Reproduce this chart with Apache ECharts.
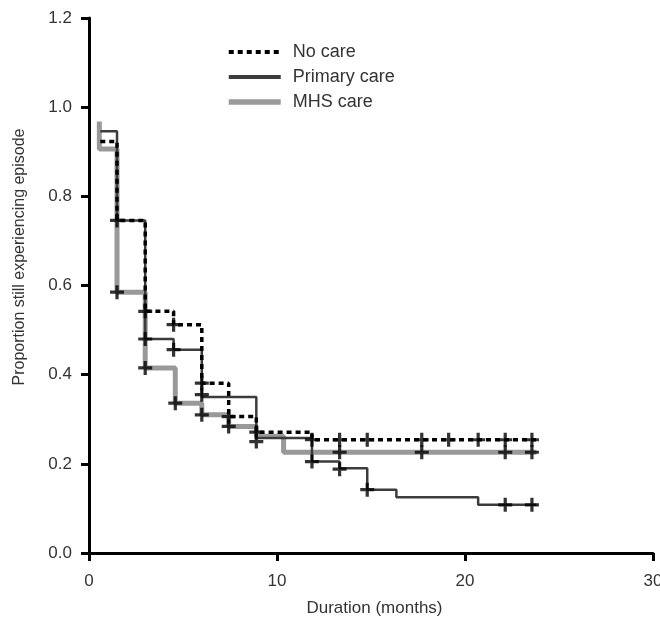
<!DOCTYPE html>
<html>
<head>
<meta charset="utf-8">
<script src="https://cdn.jsdelivr.net/npm/echarts@6/dist/echarts.min.js"></script>
<style>
html,body{margin:0;padding:0;background:#fff;}
#chart{width:660px;height:619px;}
</style>
</head>
<body>
<div id="chart"></div>
<script>
// Step curves (x = months, y = proportion); value holds until next x
const noCareX = [0.6, 1.49, 2.99, 4.5, 6.0, 7.43, 8.9, 11.86, 23.8];
const noCareY = [0.923, 0.746, 0.542, 0.512, 0.381, 0.306, 0.271, 0.254, 0.254];

const primaryX = [0.6, 1.49, 2.99, 4.5, 6.0, 8.9, 11.86, 13.33, 14.8, 16.35, 20.7, 23.8];
const primaryY = [0.946, 0.746, 0.48, 0.456, 0.35, 0.258, 0.205, 0.19, 0.142, 0.125, 0.108, 0.108];

const mhsX = [0.55, 0.55, 1.49, 2.99, 4.59, 6.0, 7.43, 8.9, 10.35, 23.8];
const mhsY = [0.968, 0.906, 0.585, 0.415, 0.336, 0.31, 0.284, 0.262, 0.226, 0.226];

// Censoring marks (+)
const noCareCensX = [1.49, 2.99, 4.5, 6.0, 7.43, 8.9, 11.86, 13.33, 14.8, 17.7, 19.13, 20.7, 22.14, 23.56];
const noCareCensY = [0.746, 0.542, 0.512, 0.381, 0.306, 0.271, 0.254, 0.254, 0.254, 0.254, 0.254, 0.254, 0.254, 0.254];
const primaryCensX = [2.99, 4.5, 6.0, 8.9, 11.86, 13.33, 14.8, 22.14, 23.56];
const primaryCensY = [0.48, 0.456, 0.355, 0.25, 0.205, 0.188, 0.142, 0.108, 0.108];
const mhsCensX = [1.49, 2.99, 4.59, 6.0, 7.43, 13.33, 17.7, 22.14, 23.56];
const mhsCensY = [0.585, 0.415, 0.336, 0.31, 0.284, 0.226, 0.226, 0.226, 0.226];

const seriesNames = ['No care', 'Primary care', 'MHS care'];
const xTicks = [0, 10, 20, 30];
const yTicks = [0.0, 0.2, 0.4, 0.6, 0.8, 1.0, 1.2];

const pairs = (xs, ys) => xs.map((x, i) => [x, ys[i]]);
const plus = 'path://M-1.5,-6.5 L1.5,-6.5 L1.5,-1.5 L6.5,-1.5 L6.5,1.5 L1.5,1.5 L1.5,6.5 L-1.5,6.5 L-1.5,1.5 L-6.5,1.5 L-6.5,-1.5 L-1.5,-1.5 Z';
const FONT = '"Liberation Sans", Arial, sans-serif';

const chart = echarts.init(document.getElementById('chart'), null, {renderer: 'canvas'});
chart.setOption({
  animation: false,
  backgroundColor: '#fff',
  textStyle: {fontFamily: FONT},
  grid: {left: 89, right: 7, top: 18, bottom: 66, containLabel: false, outerBoundsMode: 'none'},
  legend: {
    data: [
      {name: seriesNames[0], lineStyle: {width: 4}},
      {name: seriesNames[1], lineStyle: {width: 4}},
      {name: seriesNames[2], lineStyle: {width: 5.5}}
    ],
    orient: 'vertical',
    left: 221, top: 38,
    itemWidth: 52, itemHeight: 14, itemGap: 7,
    itemStyle: {opacity: 0},
    textStyle: {fontSize: 18, color: '#333', fontFamily: FONT, padding: [0, 0, 0, 7]}
  },
  xAxis: {
    type: 'value', min: xTicks[0], max: xTicks[xTicks.length - 1], interval: 10,
    name: 'Duration (months)', nameLocation: 'middle', nameGap: 47,
    nameTextStyle: {fontSize: 17, color: '#333', fontFamily: FONT, padding: [0, 0, 0, 7]},
    axisLine: {show: true, lineStyle: {color: '#000', width: 3}},
    axisTick: {show: true, length: 8, lineStyle: {color: '#000', width: 3}},
    axisLabel: {fontSize: 17, color: '#333', margin: 20, fontFamily: FONT},
    splitLine: {show: false}
  },
  yAxis: {
    type: 'value', min: yTicks[0], max: yTicks[yTicks.length - 1], interval: 0.2,
    name: 'Proportion still experiencing episode', nameLocation: 'middle', nameGap: 61,
    nameTextStyle: {fontSize: 16, color: '#333', fontFamily: FONT, padding: [0, 0, 0, 57]},
    axisLine: {show: true, lineStyle: {color: '#000', width: 3}},
    axisTick: {show: true, length: 8, lineStyle: {color: '#000', width: 3}},
    axisLabel: {fontSize: 17, color: '#333', margin: 17, fontFamily: FONT,
      formatter: v => v.toFixed(1)},
    splitLine: {show: false}
  },
  series: [
    {name: 'No care', type: 'line', step: 'end', symbol: 'none', z: 4,
      data: pairs(noCareX, noCareY),
      lineStyle: {color: '#000', width: 3.5, type: [5, 4]}, itemStyle: {color: '#000'}},
    {name: 'Primary care', type: 'line', step: 'end', symbol: 'none', z: 3,
      data: pairs(primaryX, primaryY),
      lineStyle: {color: '#3c3c3c', width: 2.5}, itemStyle: {color: '#3c3c3c'}},
    {name: 'MHS care', type: 'line', step: 'end', symbol: 'none', z: 2,
      data: pairs(mhsX, mhsY),
      lineStyle: {color: '#999', width: 5}, itemStyle: {color: '#999'}},
    {name: 'cens1', type: 'scatter', symbol: plus, symbolSize: 14, z: 6,
      data: pairs(noCareCensX, noCareCensY), itemStyle: {color: '#000'}},
    {name: 'cens2', type: 'scatter', symbol: plus, symbolSize: 14, z: 6,
      data: pairs(primaryCensX, primaryCensY), itemStyle: {color: '#000'}},
    {name: 'cens3', type: 'scatter', symbol: plus, symbolSize: 14, z: 6,
      data: pairs(mhsCensX, mhsCensY), itemStyle: {color: '#000'}}
  ]
});
</script>
</body>
</html>
